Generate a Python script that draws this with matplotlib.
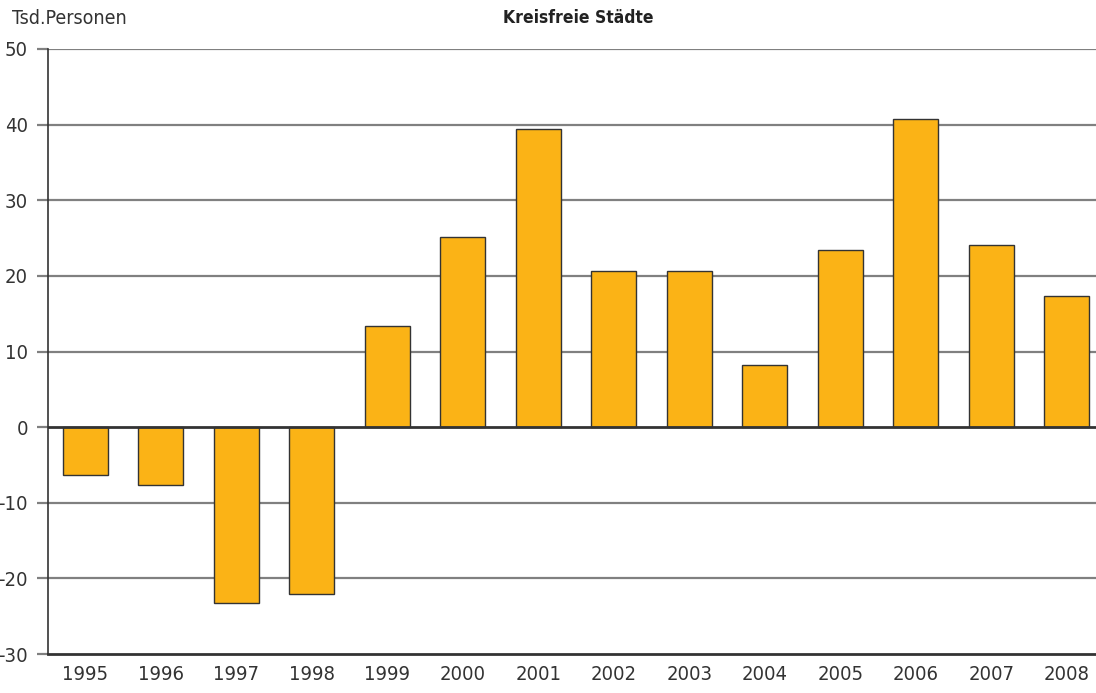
import matplotlib
matplotlib.use("Agg")
import matplotlib.pyplot as plt
import numpy as np

plt.rcParams['font.family'] = ['DejaVu Sans']
plt.rcParams['font.stretch'] = 'condensed'
plt.rcParams['axes.unicode_minus'] = False

years = ['1995', '1996', '1997', '1998', '1999', '2000', '2001',
         '2002', '2003', '2004', '2005', '2006', '2007', '2008']
values = [-6.3, -7.7, -23.3, -22.0, 13.4, 25.1, 39.4,
          20.6, 20.6, 8.2, 23.4, 40.7, 24.1, 17.3]

W, H = 1096, 693
fig = plt.figure(figsize=(W / 100, H / 100), dpi=100)
ax = fig.add_axes([47.5 / W, 39 / H, 1057 / W, 605 / H])

x = np.arange(len(years))
ax.bar(x, values, width=0.6, color='#FBB316', edgecolor='#333333', linewidth=1.0, zorder=3)

ax.set_xlim(-0.5, len(years) - 0.5)
ax.set_ylim(-30, 50)
ax.set_yticks(np.arange(-30, 51, 10))
ax.set_xticks(x)
ax.set_xticklabels(years)

for v in range(-20, 51, 10):
    if v == 0:
        continue
    ax.axhline(v, color='#808080', linewidth=1.6, zorder=1)
ax.axhline(0, color='#333333', linewidth=2.0, zorder=4)

for s in ['top', 'right']:
    ax.spines[s].set_visible(False)
ax.spines['left'].set_color('#333333')
ax.spines['left'].set_linewidth(1.2)
ax.spines['bottom'].set_color('#333333')
ax.spines['bottom'].set_linewidth(2.0)

ax.tick_params(axis='y', length=8, width=1.6, color='#808080', labelsize=14.5,
               labelcolor='#333333', pad=6)
ax.tick_params(axis='x', length=0, labelsize=14.5, labelcolor='#333333', pad=8)

fig.text(12 / W, 1 - 18 / H, 'Tsd.Personen', fontsize=14, color='#333333',
         ha='left', va='center')
fig.text(578 / W, 1 - 18 / H, 'Kreisfreie Städte', fontsize=12.5, color='#222222',
         fontweight='bold', ha='center', va='center')

fig.savefig('out.png', dpi=100)
